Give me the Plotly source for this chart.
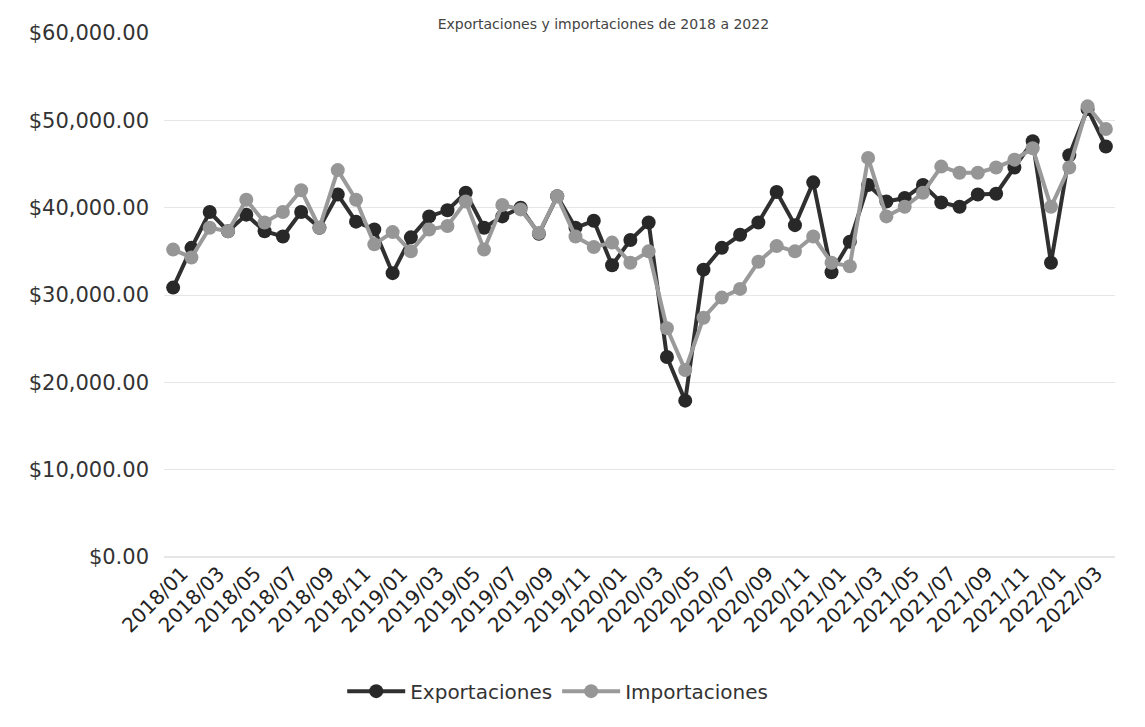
import plotly.graph_objects as go

# Monthly periods, 2018/01 .. 2022/04
months = [f"{y}/{m:02d}" for y in range(2018, 2023) for m in range(1, 13)][:52]

exportaciones = [
    30850, 35400, 39500, 37300, 39200, 37300, 36700, 39500, 37700, 41500,
    38400, 37500, 32500, 36600, 39000, 39700, 41700, 37700, 39000, 40000,
    37000, 41300, 37700, 38500, 33400, 36300, 38300, 22900, 17900, 32900,
    35400, 36900, 38300, 41800, 38000, 42900, 32600, 36100, 42600, 40700,
    41100, 42600, 40600, 40100, 41500, 41600, 44600, 47600, 33700, 46000,
    51300, 47000,
]

importaciones = [
    35200, 34300, 37700, 37300, 40900, 38300, 39500, 42000, 37700, 44300,
    40900, 35800, 37200, 35000, 37500, 37900, 40700, 35200, 40300, 39800,
    37100, 41300, 36700, 35500, 36000, 33700, 35000, 26200, 21400, 27400,
    29700, 30700, 33800, 35600, 35000, 36700, 33700, 33300, 45700, 39000,
    40100, 41700, 44700, 44000, 44000, 44600, 45500, 46800, 40100, 44600,
    51600, 49000,
]

tick_labels = months[::2]

fig = go.Figure()

fig.add_trace(
    go.Scatter(
        x=months,
        y=exportaciones,
        name="Exportaciones",
        mode="lines+markers",
        line=dict(color="#303030", width=4),
        marker=dict(color="#282828", size=14),
    )
)
fig.add_trace(
    go.Scatter(
        x=months,
        y=importaciones,
        name="Importaciones",
        mode="lines+markers",
        line=dict(color="#9a9a9a", width=4),
        marker=dict(color="#969696", size=14),
    )
)

fig.update_layout(
    width=1145,
    height=727,
    paper_bgcolor="white",
    plot_bgcolor="white",
    font=dict(family="DejaVu Sans", color="#333333"),
    title=dict(
        text="Exportaciones y importaciones de 2018 a 2022",
        font=dict(size=14, color="#444444"),
        x=0.52,
        xanchor="center",
        y=0.985,
        yref="container",
        yanchor="top",
    ),
    margin=dict(l=156, r=38, t=25, b=178),
    showlegend=True,
    legend=dict(
        orientation="h",
        x=0.414,
        xanchor="center",
        y=-0.256,
        yanchor="middle",
        itemwidth=58,
        font=dict(size=20, color="#333333"),
    ),
)

fig.update_xaxes(
    type="category",
    range=[-0.5, len(months) - 0.5],
    tickmode="array",
    tickvals=tick_labels,
    ticktext=tick_labels,
    tickangle=-45,
    ticklabelshift=9,
    tickfont=dict(size=20, color="#222222"),
    showgrid=False,
    showline=False,
    ticks="",
    automargin=False,
)

fig.update_yaxes(
    range=[0, 60000],
    dtick=10000,
    tickprefix="$",
    tickformat=",.2f",
    ticklabelstandoff=14,
    tickfont=dict(size=21, color="#333333"),
    gridcolor="#e6e6e6",
    gridwidth=1,
    zeroline=True,
    zerolinecolor="#e6e6e6",
    showline=False,
    ticks="",
    automargin=False,
)

fig.write_html("out.html")
